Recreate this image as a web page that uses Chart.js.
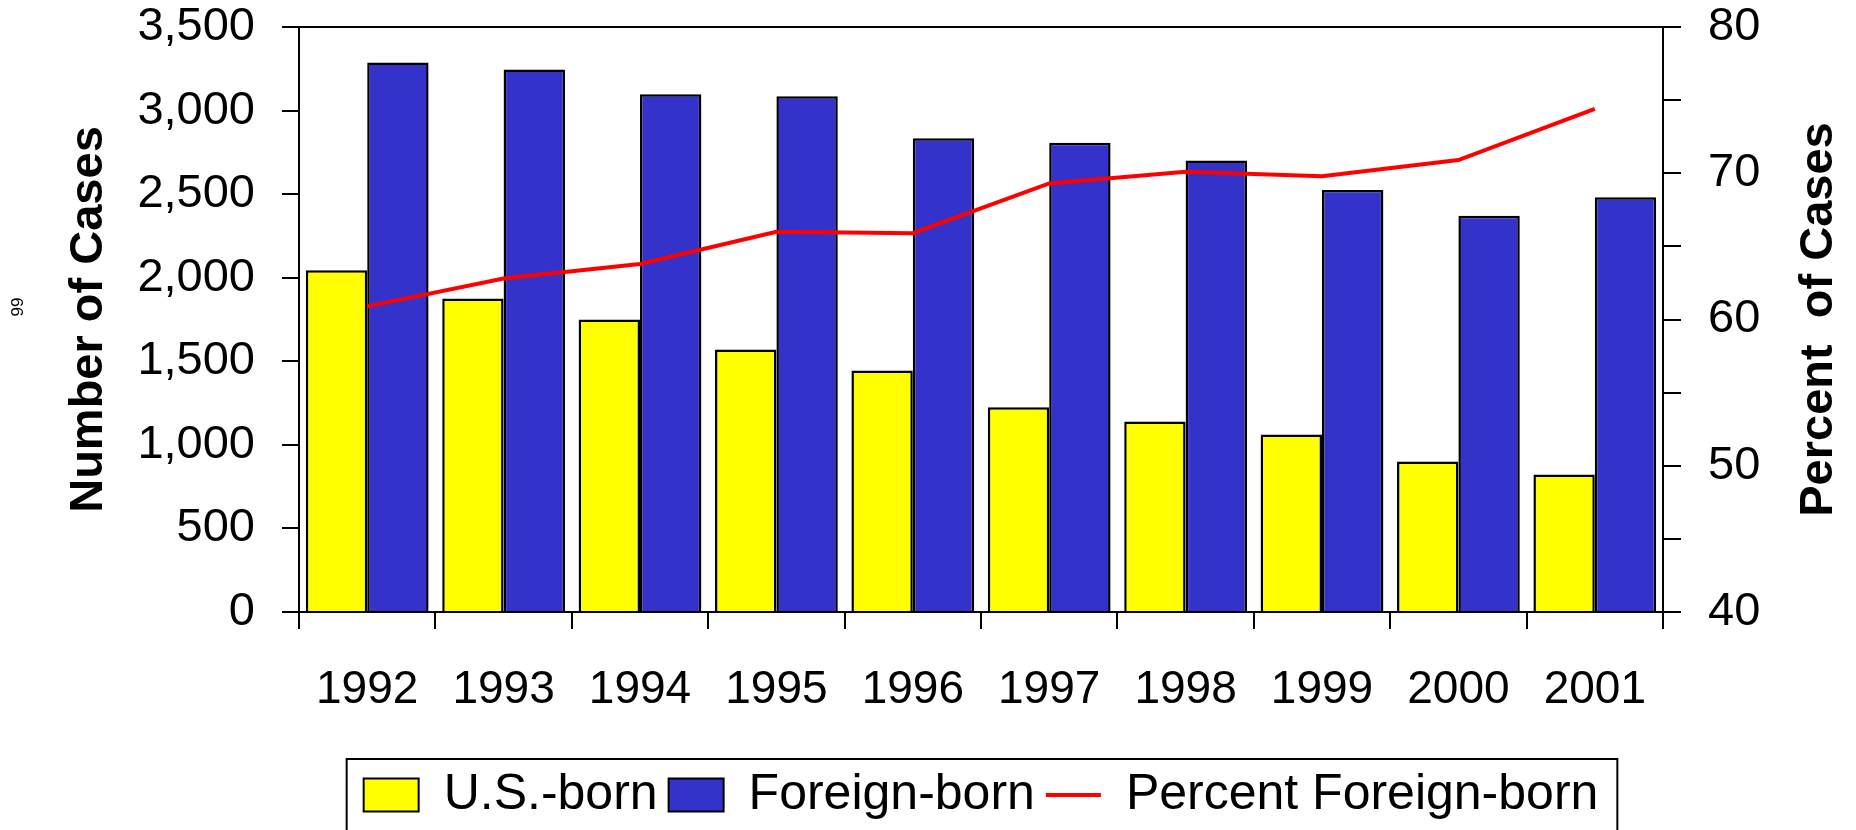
<!DOCTYPE html>
<html>
<head>
<meta charset="utf-8">
<script src="https://cdn.jsdelivr.net/npm/chart.js@4"></script>
<style>
  body { margin: 0; background: #fff; }
  #wrap { width: 1856px; height: 830px; }
</style>
</head>
<body>
<div id="wrap"><canvas id="casesChart"></canvas></div>
<script>
// data
var years = ['1992', '1993', '1994', '1995', '1996', '1997', '1998', '1999', '2000', '2001'];
var usBorn = [2045, 1875, 1750, 1570, 1445, 1225, 1140, 1062, 900, 822];
var foreignBorn = [3288, 3245, 3098, 3085, 2835, 2808, 2702, 2525, 2370, 2482];
var pctForeign = [60.9, 62.8, 63.8, 66.0, 65.9, 69.3, 70.1, 69.8, 70.9, 74.4];
var leftTicks = [0, 3500, 500];
var rightTicks = [40, 80, 5];

Chart.defaults.font.family = '"Liberation Sans", Arial, sans-serif';
Chart.defaults.color = '#000';

// frame line on top, axis titles, little "99" and the legend border
var extras = {
    id: 'extras',
    afterDraw: function(chart) {
        var ctx = chart.ctx, a = chart.chartArea;
        ctx.save();
        ctx.strokeStyle = '#000';
        ctx.lineWidth = 2;
        ctx.beginPath();
        ctx.moveTo(a.left, a.top);
        ctx.lineTo(a.right, a.top);
        ctx.stroke();

        var midY = (a.top + a.bottom) / 2;
        ctx.fillStyle = '#000';
        ctx.font = 'bold 47px "Liberation Sans", Arial, sans-serif';
        ctx.textAlign = 'center';
        ctx.textBaseline = 'middle';
        ctx.save();
        ctx.translate(89, midY);
        ctx.rotate(-Math.PI / 2);
        ctx.fillText('Number of Cases', 0, 0);
        ctx.restore();
        ctx.save();
        ctx.translate(1819, midY);
        ctx.rotate(-Math.PI / 2);
        ctx.fillText('Percent  of Cases', 0, 0);
        ctx.restore();

        ctx.save();
        ctx.font = '17px "Liberation Sans", Arial, sans-serif';
        ctx.translate(18, 307);
        ctx.rotate(-Math.PI / 2);
        ctx.fillText('99', 0, 0);
        ctx.restore();

        var boxes = chart.legend.legendHitBoxes;
        if (boxes && boxes.length) {
            var l = boxes[0].left - 17;
            var last = boxes[boxes.length - 1];
            var r = last.left + last.width + 19;
            ctx.lineWidth = 2;
            ctx.strokeRect(l, chart.legend.top, r - l, 120);
        }
        ctx.restore();
    }
};

// fixed axis sizes so the plot area lands where the reference has it
function fitY(width) {
    return function(s) {
        s.width = width;
        s.paddingTop = 0;
        s.paddingBottom = 0;
    };
}

var ctx = document.getElementById('casesChart').getContext('2d');
var casesChart = new Chart(ctx, {
    data: {
        labels: years,
        datasets: [{
            type: 'bar',
            label: 'U.S.-born',
            data: usBorn,
            backgroundColor: '#FFFF00',
            borderColor: '#000',
            borderWidth: 2.5,
            order: 1,
            yAxisID: 'y'
        }, {
            type: 'bar',
            label: 'Foreign-born',
            data: foreignBorn,
            backgroundColor: '#3333CC',
            borderColor: '#000',
            borderWidth: 2.5,
            order: 1,
            yAxisID: 'y'
        }, {
            type: 'line',
            label: 'Percent Foreign-born',
            data: pctForeign,
            borderColor: '#FF0000',
            backgroundColor: '#FF0000',
            borderWidth: 4,
            pointRadius: 0,
            tension: 0,
            order: 0,
            yAxisID: 'y1'
        }]
    },
    options: {
        responsive: true,
        maintainAspectRatio: false,
        animation: false,
        layout: { padding: { top: 27, left: 0, right: 0, bottom: 0 } },
        datasets: {
            bar: { categoryPercentage: 0.9, barPercentage: 1.0 }
        },
        scales: {
            x: {
                offset: true,
                grid: { offset: true, drawOnChartArea: false, color: '#000', lineWidth: 2, tickLength: 17 },
                border: { color: '#000', width: 2 },
                ticks: { font: { size: 46 }, color: '#000', padding: 34, maxRotation: 0 },
                afterFit: function(s) { s.height = 147; }
            },
            y: {
                position: 'left',
                min: leftTicks[0],
                max: leftTicks[1],
                ticks: {
                    stepSize: leftTicks[2],
                    font: { size: 47 },
                    color: '#000',
                    padding: 27,
                    callback: function(v) { return v.toLocaleString('en-US'); }
                },
                grid: { drawOnChartArea: false, color: '#000', lineWidth: 2, tickLength: 17 },
                border: { color: '#000', width: 2 },
                afterFit: fitY(299)
            },
            y1: {
                position: 'right',
                min: rightTicks[0],
                max: rightTicks[1],
                ticks: {
                    stepSize: rightTicks[2],
                    font: { size: 47 },
                    color: '#000',
                    padding: 27,
                    callback: function(v) { return v % 10 === 0 ? v : ''; }
                },
                grid: { drawOnChartArea: false, color: '#000', lineWidth: 2, tickLength: 18 },
                border: { color: '#000', width: 2 },
                afterFit: fitY(193)
            }
        },
        plugins: {
            tooltip: { enabled: false },
            legend: {
                position: 'bottom',
                fullSize: false,
                labels: {
                    usePointStyle: true,
                    pointStyleWidth: 55,
                    boxHeight: 33,
                    padding: 11,
                    color: '#000',
                    font: { size: 50 },
                    generateLabels: function(chart) {
                        return chart.data.datasets.map(function(ds, i) {
                            var isLine = ds.type === 'line';
                            return {
                                text: ds.label,
                                datasetIndex: i,
                                fillStyle: ds.backgroundColor,
                                strokeStyle: isLine ? ds.borderColor : '#000',
                                lineWidth: isLine ? 4 : 2,
                                pointStyle: isLine ? 'line' : 'rect',
                                fontColor: '#000',
                                hidden: false
                            };
                        });
                    }
                }
            }
        }
    },
    plugins: [extras]
});
</script>
</body>
</html>
